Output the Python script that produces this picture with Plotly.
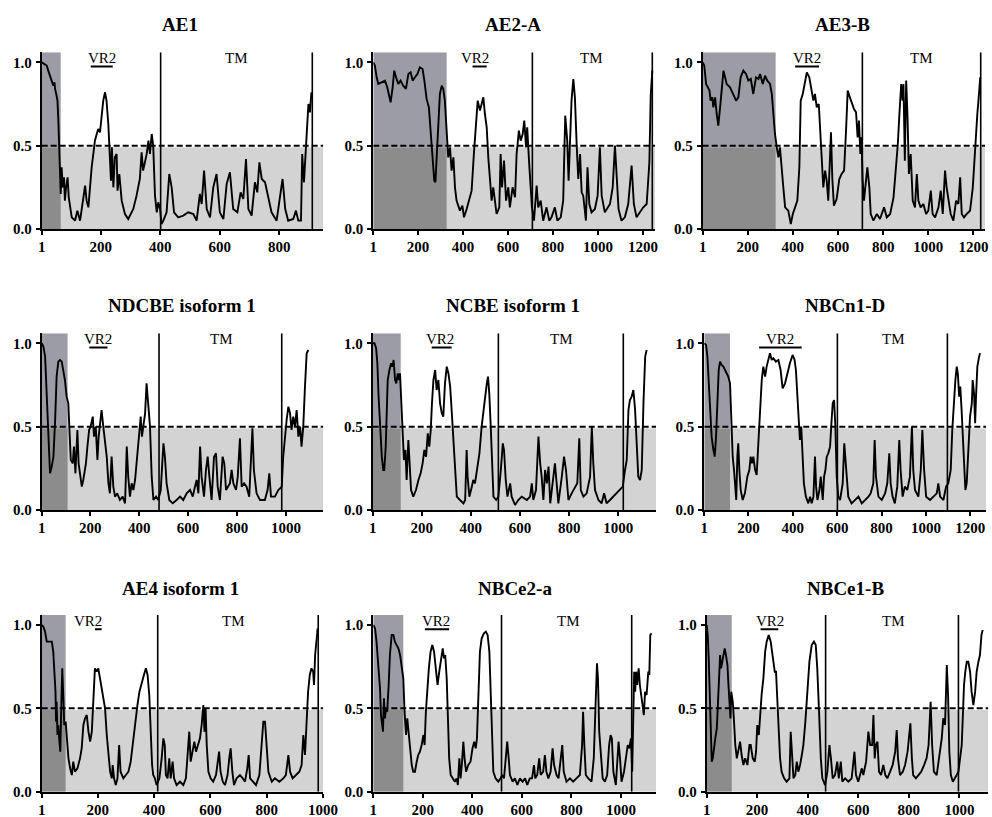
import plotly.graph_objects as go

# ---------------- data (residue position, disorder score) ----------------
AE1_POS = [1,12,18,23,29,35,40,44,46,51,54,57,60,63,65,68,72,76,79,83,88,92,96,102,113,121,130,141,147,152,158,169,180,186,191,197,203,208,214,219,225,228,231,234,237,242,247,253,256,262,270,281,292,309,320,331,337,342,354,360,365,371,376,382,388,393,399,404,410,421,430,438,446,460,477,494,511,522,533,539,547,556,567,578,589,600,612,623,634,645,659,670,679,688,696,707,718,726,733,741,752,763,774,791,802,811,820,830,847,856,864,873,877,883,890,894,898,903,908]
AE1_SCORE = [1.00,0.99,0.98,0.95,0.92,0.89,0.86,0.88,0.84,0.80,0.77,0.65,0.49,0.33,0.21,0.37,0.25,0.31,0.17,0.25,0.31,0.19,0.13,0.07,0.05,0.11,0.05,0.17,0.26,0.17,0.13,0.37,0.53,0.57,0.60,0.58,0.69,0.77,0.82,0.77,0.63,0.51,0.41,0.29,0.49,0.25,0.43,0.45,0.23,0.33,0.17,0.09,0.06,0.12,0.20,0.30,0.46,0.35,0.45,0.53,0.45,0.57,0.50,0.20,0.10,0.16,0.12,0.03,0.05,0.10,0.33,0.25,0.10,0.07,0.08,0.10,0.09,0.05,0.21,0.15,0.35,0.12,0.07,0.25,0.33,0.10,0.06,0.27,0.34,0.12,0.10,0.22,0.18,0.42,0.12,0.08,0.28,0.22,0.40,0.30,0.28,0.18,0.10,0.05,0.20,0.30,0.12,0.05,0.06,0.11,0.05,0.05,0.45,0.28,0.50,0.65,0.75,0.70,0.82]

AE2_POS = [1,8,16,23,38,53,63,72,78,87,94,102,112,122,134,146,157,167,176,186,197,208,220,228,238,248,257,265,272,277,282,290,297,305,312,319,327,334,342,349,357,364,371,386,397,404,416,428,438,448,457,465,475,482,490,497,505,512,519,527,534,542,549,561,567,573,582,591,601,608,620,631,638,648,656,665,672,680,685,693,700,706,715,727,734,745,756,771,783,793,808,819,834,845,854,863,869,875,882,890,897,905,912,920,927,934,946,953,961,971,986,998,1008,1016,1030,1053,1065,1075,1082,1091,1104,1119,1134,1149,1159,1171,1186,1201,1216,1228,1234,1241]
AE2_SCORE = [1.00,0.98,0.91,0.87,0.88,0.89,0.85,0.79,0.76,0.85,0.95,0.91,0.87,0.89,0.86,0.84,0.93,0.94,0.89,0.91,0.93,0.97,0.96,0.89,0.78,0.73,0.57,0.45,0.29,0.28,0.43,0.65,0.81,0.86,0.84,0.77,0.57,0.43,0.49,0.35,0.43,0.25,0.17,0.11,0.14,0.07,0.12,0.19,0.23,0.45,0.65,0.77,0.71,0.75,0.79,0.69,0.61,0.43,0.33,0.17,0.25,0.15,0.09,0.13,0.45,0.25,0.41,0.17,0.25,0.13,0.25,0.19,0.45,0.59,0.53,0.57,0.65,0.49,0.61,0.41,0.25,0.13,0.05,0.26,0.13,0.17,0.05,0.13,0.05,0.07,0.13,0.05,0.07,0.17,0.68,0.53,0.29,0.57,0.77,0.90,0.79,0.50,0.30,0.45,0.22,0.20,0.05,0.37,0.15,0.10,0.12,0.20,0.49,0.20,0.10,0.15,0.25,0.50,0.30,0.12,0.05,0.07,0.15,0.38,0.15,0.07,0.10,0.13,0.15,0.40,0.80,0.95]

AE3_POS = [1,8,16,23,31,36,44,48,56,63,70,78,85,93,100,107,122,137,149,159,169,181,193,203,214,225,237,248,255,267,277,287,299,307,314,321,329,336,343,351,358,366,380,391,400,410,420,429,435,444,454,462,473,484,491,498,506,515,524,529,535,543,550,557,565,569,575,582,594,606,616,627,636,643,650,661,671,680,687,693,699,704,709,715,724,730,739,745,757,772,786,804,816,831,846,857,865,872,880,886,890,896,902,908,914,922,931,941,949,956,966,978,990,1000,1011,1019,1030,1045,1055,1064,1074,1081,1090,1099,1111,1123,1133,1141,1148,1158,1170,1185,1197,1204,1211,1217,1222,1226,1230]
AE3_SCORE = [1.00,0.98,0.87,0.85,0.83,0.77,0.79,0.73,0.79,0.69,0.62,0.73,0.83,0.95,0.91,0.87,0.85,0.81,0.77,0.79,0.91,0.95,0.93,0.89,0.90,0.81,0.91,0.90,0.93,0.87,0.92,0.89,0.87,0.81,0.69,0.57,0.49,0.43,0.49,0.33,0.25,0.13,0.11,0.03,0.09,0.13,0.17,0.37,0.77,0.81,0.89,0.94,0.91,0.83,0.77,0.81,0.73,0.75,0.53,0.39,0.25,0.35,0.29,0.17,0.40,0.58,0.30,0.14,0.18,0.30,0.33,0.35,0.60,0.83,0.80,0.75,0.72,0.70,0.55,0.65,0.45,0.55,0.30,0.17,0.29,0.37,0.25,0.09,0.05,0.09,0.06,0.13,0.07,0.09,0.19,0.37,0.51,0.69,0.87,0.77,0.87,0.41,0.89,0.67,0.33,0.45,0.17,0.13,0.33,0.17,0.13,0.15,0.09,0.11,0.23,0.09,0.07,0.13,0.23,0.09,0.35,0.25,0.17,0.09,0.05,0.17,0.15,0.31,0.09,0.07,0.09,0.11,0.25,0.43,0.53,0.69,0.77,0.87,0.91]

NDCBE_POS = [1,8,15,21,26,31,35,42,49,56,62,69,76,83,90,96,103,110,114,120,128,133,139,147,152,158,165,171,182,188,195,201,210,215,222,229,234,240,246,253,260,267,274,280,287,294,301,310,321,332,342,349,355,362,369,376,383,392,400,406,411,417,424,430,437,444,451,458,469,478,488,499,505,512,523,537,553,567,580,594,608,619,628,635,642,649,655,665,673,680,687,696,706,714,721,730,741,748,755,762,771,778,785,796,803,812,819,829,839,850,863,869,880,894,914,925,932,939,955,969,983,989,996,1003,1010,1017,1023,1030,1037,1044,1051,1058,1064,1071,1078,1085,1092]
NDCBE_SCORE = [1.00,0.98,0.92,0.72,0.54,0.32,0.22,0.26,0.32,0.54,0.80,0.89,0.90,0.89,0.84,0.78,0.68,0.64,0.50,0.30,0.28,0.38,0.22,0.48,0.28,0.20,0.14,0.18,0.28,0.38,0.48,0.50,0.56,0.44,0.50,0.30,0.44,0.52,0.60,0.50,0.40,0.32,0.16,0.10,0.32,0.14,0.08,0.10,0.06,0.08,0.04,0.38,0.20,0.08,0.16,0.12,0.18,0.32,0.44,0.56,0.44,0.50,0.58,0.76,0.64,0.50,0.20,0.06,0.08,0.06,0.12,0.40,0.32,0.16,0.06,0.04,0.06,0.08,0.06,0.10,0.12,0.08,0.14,0.18,0.10,0.38,0.20,0.08,0.24,0.32,0.20,0.06,0.32,0.34,0.14,0.06,0.32,0.28,0.12,0.14,0.16,0.24,0.16,0.12,0.20,0.43,0.14,0.16,0.14,0.08,0.49,0.24,0.10,0.06,0.06,0.12,0.22,0.08,0.08,0.12,0.14,0.32,0.44,0.54,0.62,0.58,0.48,0.56,0.50,0.60,0.44,0.50,0.38,0.50,0.74,0.94,0.96]

NCBE_POS = [1,8,15,20,25,31,38,44,48,54,58,62,69,76,81,86,92,97,103,108,112,118,123,128,134,139,146,150,157,166,177,187,196,204,211,218,225,231,237,242,248,255,261,268,275,282,288,295,302,309,316,322,329,336,343,356,370,377,383,387,394,404,410,417,424,435,444,451,458,465,470,475,481,486,492,503,512,522,530,535,542,549,560,566,580,593,607,628,641,648,654,665,675,682,688,695,702,709,716,723,731,742,749,756,770,779,787,797,810,824,833,841,847,858,871,885,892,898,905,919,932,942,952,966,979,993,1007,1018,1027,1034,1041,1047,1054,1061,1068,1074,1081,1088,1095,1102,1109,1115]
NCBE_SCORE = [1.00,1.00,0.97,0.88,0.68,0.50,0.32,0.24,0.24,0.38,0.60,0.78,0.84,0.88,0.86,0.90,0.78,0.76,0.82,0.78,0.82,0.60,0.44,0.30,0.36,0.18,0.42,0.28,0.12,0.08,0.12,0.18,0.22,0.28,0.36,0.32,0.46,0.38,0.48,0.64,0.78,0.84,0.72,0.78,0.64,0.58,0.56,0.76,0.86,0.82,0.74,0.60,0.44,0.24,0.08,0.06,0.04,0.06,0.36,0.20,0.08,0.14,0.18,0.16,0.24,0.34,0.50,0.60,0.68,0.76,0.80,0.70,0.50,0.24,0.08,0.06,0.08,0.24,0.40,0.36,0.18,0.08,0.16,0.08,0.03,0.06,0.08,0.06,0.08,0.16,0.06,0.12,0.44,0.28,0.20,0.06,0.24,0.16,0.26,0.04,0.14,0.28,0.16,0.04,0.20,0.32,0.24,0.06,0.10,0.14,0.16,0.43,0.12,0.08,0.10,0.20,0.50,0.28,0.12,0.06,0.04,0.10,0.04,0.06,0.08,0.10,0.12,0.14,0.24,0.30,0.60,0.66,0.68,0.72,0.60,0.40,0.20,0.18,0.24,0.64,0.92,0.96]

NBCN1_POS = [1,9,15,21,27,34,42,48,54,60,66,72,79,87,94,102,109,117,123,129,135,141,145,150,154,159,165,174,184,195,204,210,216,222,230,237,245,252,260,267,275,282,290,297,305,312,324,335,345,354,365,375,387,399,408,414,420,426,432,438,444,450,459,470,478,485,493,500,505,511,520,526,535,541,547,553,560,568,575,580,586,592,598,605,613,625,632,640,650,665,681,696,711,726,741,751,763,769,775,786,801,816,826,835,841,850,860,871,880,886,895,905,916,928,937,943,951,966,977,984,992,1001,1019,1034,1049,1056,1064,1079,1091,1101,1112,1119,1127,1133,1139,1144,1150,1155,1161,1166,1172,1178,1184,1191,1199,1207,1211,1217,1222,1226,1232,1240,1244]
NBCN1_SCORE = [1.00,0.99,0.92,0.76,0.56,0.44,0.36,0.32,0.44,0.68,0.84,0.89,0.87,0.86,0.84,0.82,0.80,0.76,0.52,0.32,0.24,0.14,0.06,0.32,0.40,0.24,0.12,0.06,0.10,0.20,0.24,0.32,0.28,0.32,0.24,0.21,0.44,0.64,0.78,0.86,0.80,0.86,0.90,0.94,0.90,0.91,0.89,0.90,0.84,0.73,0.76,0.82,0.88,0.93,0.90,0.84,0.72,0.54,0.42,0.50,0.32,0.16,0.08,0.04,0.08,0.04,0.08,0.32,0.14,0.06,0.12,0.20,0.06,0.20,0.24,0.32,0.34,0.38,0.54,0.64,0.66,0.50,0.20,0.08,0.06,0.16,0.40,0.24,0.08,0.04,0.06,0.08,0.04,0.06,0.08,0.10,0.16,0.42,0.20,0.08,0.06,0.10,0.16,0.34,0.16,0.08,0.04,0.14,0.42,0.24,0.08,0.14,0.12,0.20,0.50,0.24,0.12,0.08,0.24,0.48,0.24,0.08,0.06,0.08,0.10,0.16,0.08,0.06,0.14,0.16,0.24,0.48,0.68,0.78,0.86,0.82,0.68,0.74,0.60,0.44,0.24,0.12,0.16,0.32,0.56,0.64,0.78,0.70,0.52,0.68,0.86,0.92,0.94]

AE4_POS = [1,7,13,19,28,37,42,46,50,52,54,57,60,64,67,71,74,78,81,86,90,96,102,108,113,119,128,137,143,149,155,161,167,173,179,184,190,196,202,208,214,220,226,232,238,244,250,253,258,264,270,276,281,291,300,309,317,324,332,341,348,356,364,371,377,383,388,393,397,403,409,419,427,433,438,442,448,454,459,466,471,480,492,504,513,522,525,530,537,543,549,557,563,569,575,579,583,587,593,601,610,620,626,631,636,644,652,661,667,672,678,684,693,705,715,723,731,736,741,750,762,774,782,788,794,800,806,818,829,845,859,868,877,883,892,904,916,924,930,936,941,947,953,959,965,968,972,977,981]
AE4_SCORE = [1.00,0.99,0.96,0.90,0.90,0.90,0.84,0.72,0.60,0.42,0.54,0.34,0.40,0.30,0.24,0.54,0.74,0.56,0.40,0.42,0.32,0.20,0.14,0.10,0.18,0.12,0.14,0.20,0.26,0.40,0.44,0.46,0.36,0.30,0.36,0.54,0.74,0.72,0.74,0.68,0.62,0.54,0.50,0.34,0.20,0.12,0.08,0.16,0.08,0.04,0.08,0.28,0.12,0.08,0.10,0.12,0.18,0.28,0.42,0.52,0.60,0.66,0.70,0.74,0.70,0.58,0.36,0.16,0.10,0.08,0.04,0.08,0.20,0.32,0.28,0.10,0.08,0.20,0.08,0.18,0.08,0.04,0.06,0.04,0.08,0.30,0.36,0.18,0.26,0.30,0.24,0.28,0.32,0.40,0.52,0.36,0.50,0.28,0.12,0.08,0.06,0.10,0.20,0.24,0.12,0.06,0.04,0.10,0.20,0.26,0.12,0.04,0.08,0.10,0.08,0.06,0.14,0.22,0.08,0.06,0.04,0.10,0.28,0.42,0.42,0.28,0.12,0.06,0.08,0.06,0.08,0.10,0.22,0.12,0.08,0.10,0.12,0.16,0.34,0.22,0.38,0.60,0.70,0.74,0.72,0.64,0.82,0.94,0.98]

NBCE2_POS = [1,8,14,21,28,32,36,40,44,48,52,57,63,68,75,82,88,95,102,109,115,122,127,133,138,143,149,156,162,169,176,182,189,196,203,208,213,219,225,232,239,246,254,260,267,275,281,286,291,297,302,307,313,321,330,337,342,348,353,358,364,369,375,384,393,401,408,414,419,424,431,438,447,455,462,469,474,479,485,494,505,514,522,528,536,541,547,552,563,572,582,592,603,613,622,632,641,649,654,662,670,676,686,693,699,707,716,724,730,740,748,756,763,769,780,794,807,820,834,843,847,852,858,868,881,890,896,900,903,907,912,918,926,935,944,952,958,963,969,979,985,990,996,1002,1012,1020,1027,1033,1040,1045,1049,1053,1057,1061,1065,1071,1076,1081,1087,1092,1097,1103,1110,1114,1118,1123]
NBCE2_SCORE = [1.00,0.98,0.90,0.76,0.62,0.46,0.42,0.36,0.56,0.44,0.50,0.48,0.64,0.82,0.94,0.94,0.90,0.88,0.86,0.82,0.76,0.68,0.48,0.34,0.44,0.36,0.24,0.16,0.12,0.12,0.18,0.22,0.24,0.28,0.34,0.28,0.48,0.64,0.74,0.84,0.88,0.84,0.72,0.64,0.72,0.80,0.86,0.80,0.82,0.68,0.44,0.20,0.10,0.08,0.06,0.08,0.04,0.20,0.08,0.16,0.30,0.20,0.12,0.16,0.18,0.26,0.30,0.26,0.32,0.54,0.84,0.92,0.95,0.96,0.94,0.84,0.58,0.28,0.12,0.08,0.06,0.08,0.10,0.08,0.20,0.30,0.20,0.10,0.06,0.08,0.04,0.08,0.06,0.08,0.04,0.08,0.08,0.16,0.08,0.10,0.20,0.10,0.12,0.22,0.12,0.08,0.12,0.26,0.16,0.10,0.08,0.18,0.28,0.12,0.06,0.08,0.06,0.08,0.10,0.28,0.48,0.28,0.10,0.08,0.06,0.20,0.48,0.70,0.77,0.68,0.36,0.24,0.08,0.06,0.10,0.28,0.34,0.32,0.12,0.04,0.16,0.30,0.20,0.06,0.12,0.20,0.28,0.26,0.32,0.12,0.48,0.72,0.60,0.72,0.64,0.74,0.64,0.58,0.54,0.46,0.60,0.58,0.72,0.70,0.94,0.95]

NBCE1_POS = [1,5,9,13,17,21,25,30,35,41,46,50,54,58,62,67,72,77,83,87,91,95,98,104,109,114,120,126,133,139,146,153,162,170,175,183,191,196,201,207,212,218,225,232,238,246,254,262,270,275,280,286,291,297,307,317,328,333,338,344,351,357,363,370,377,383,391,399,407,416,425,432,438,445,452,458,469,478,486,492,499,508,517,523,531,537,548,561,574,585,591,600,614,620,631,640,647,655,660,665,670,676,682,690,699,707,715,726,736,746,752,757,765,776,785,795,801,806,812,817,828,839,849,860,870,878,886,892,899,910,920,930,936,943,950,955,960,966,974,983,989,996,1002,1009,1013,1018,1023,1029,1035,1042,1048,1055,1062,1068,1075,1081,1087,1092]
NBCE1_SCORE = [1.00,0.94,0.80,0.58,0.28,0.18,0.20,0.28,0.32,0.38,0.58,0.74,0.82,0.74,0.78,0.82,0.86,0.82,0.76,0.64,0.56,0.44,0.60,0.54,0.42,0.28,0.20,0.24,0.30,0.22,0.16,0.20,0.16,0.28,0.28,0.20,0.18,0.24,0.40,0.34,0.48,0.58,0.68,0.84,0.90,0.94,0.90,0.80,0.72,0.72,0.58,0.36,0.20,0.12,0.08,0.06,0.08,0.36,0.20,0.08,0.10,0.18,0.12,0.16,0.22,0.28,0.42,0.62,0.78,0.88,0.90,0.88,0.74,0.48,0.20,0.08,0.04,0.12,0.28,0.20,0.08,0.10,0.18,0.08,0.18,0.06,0.08,0.06,0.08,0.24,0.10,0.06,0.14,0.10,0.18,0.36,0.28,0.28,0.46,0.20,0.28,0.30,0.12,0.10,0.16,0.10,0.08,0.12,0.16,0.24,0.37,0.20,0.10,0.12,0.16,0.24,0.36,0.41,0.20,0.10,0.08,0.10,0.12,0.16,0.20,0.28,0.54,0.28,0.12,0.10,0.20,0.32,0.44,0.40,0.76,0.58,0.24,0.10,0.06,0.08,0.10,0.12,0.20,0.28,0.44,0.64,0.72,0.78,0.78,0.72,0.60,0.52,0.60,0.72,0.78,0.82,0.94,0.97]

TITLES = ["AE1", "AE2-A", "AE3-B", "NDCBE isoform 1", "NCBE isoform 1", "NBCn1-D",
          "AE4 isoform 1", "NBCe2-a", "NBCe1-B"]
SERIES = [(AE1_POS, AE1_SCORE), (AE2_POS, AE2_SCORE), (AE3_POS, AE3_SCORE),
          (NDCBE_POS, NDCBE_SCORE), (NCBE_POS, NCBE_SCORE), (NBCN1_POS, NBCN1_SCORE),
          (AE4_POS, AE4_SCORE), (NBCE2_POS, NBCE2_SCORE), (NBCE1_POS, NBCE1_SCORE)]
X_MAX = [948, 1253, 1251, 1153, 1153, 1271, 1001, 1141, 1114]
X_TICKS = [[1, 200, 400, 600, 800],
           [1, 200, 400, 600, 800, 1000, 1200],
           [1, 200, 400, 600, 800, 1000, 1200],
           [1, 200, 400, 600, 800, 1000],
           [1, 200, 400, 600, 800, 1000],
           [1, 200, 400, 600, 800, 1000, 1200],
           [1, 200, 400, 600, 800, 1000],
           [1, 200, 400, 600, 800, 1000],
           [1, 200, 400, 600, 800, 1000]]
NTERM_END = [65, 327, 324, 107, 115, 117, 86, 122, 100]      # dark N-terminal block
TM_LINES = [[401, 911], [708, 1241], [708, 1232], [481, 983], [512, 1020],
            [601, 1097], [413, 983], [518, 1043], [471, 996]]
VR2_BAR = [(166, 240), (442, 505), (410, 516), (196, 270), (241, 322),
           (248, 440), (190, 214), (209, 307), (214, 284)]
VR2_LABEL_X = [203, 453, 462, 233, 275, 342, 167, 254, 251]
TM_LABEL_X = [656, 971, 971, 737, 770, 853, 681, 787, 739]
THRESHOLD = 0.5

# ---------------- layout geometry (screen pixels) ----------------
W, H = 992, 817
COL_PX = [(41.7, 323.3), (373.3, 655.0), (702.7, 985.0),
          (41.7, 323.3), (372.7, 656.0), (704.3, 986.0),
          (41.7, 323.3), (373.3, 656.0), (706.7, 988.3)]
ROW_PX = [(52.3, 229.0), (333.3, 510.0), (615.0, 791.7)]
TITLE_PX = [(180, 25), (513, 25), (842, 25), (182, 305), (513, 305), (845, 305),
            (180, 588), (515, 588), (845, 588)]
YTOP = 1.06
SERIF = "Liberation Serif"


def fx(p):
    return p / W


def fy(p):
    return 1 - p / H


fig = go.Figure()
shapes, annotations = [], []
layout_axes = {}

for i in range(9):
    n = i + 1
    xs, ys = SERIES[i]
    xa, ya = f"x{n}", f"y{n}"
    x0p, x1p = COL_PX[i]
    ytp, ybp = ROW_PX[i // 3]
    xmax = X_MAX[i]

    fig.add_trace(go.Scatter(x=xs, y=ys, mode="lines", xaxis=xa, yaxis=ya,
                             line=dict(color="black", width=1.9), showlegend=False,
                             hoverinfo="skip"))

    axis_common = dict(showline=True, linecolor="black", linewidth=2, ticks="outside",
                       ticklen=4, tickwidth=2, tickcolor="black", showgrid=False,
                       zeroline=False, fixedrange=True, automargin=False,
                       tickfont=dict(family=SERIF, size=15, color="black", weight="bold"))
    layout_axes[f"xaxis{n}"] = dict(axis_common, domain=[fx(x0p), fx(x1p)],
                                    range=[1, xmax], anchor=ya,
                                    tickmode="array", tickvals=X_TICKS[i],
                                    ticktext=[str(t) for t in X_TICKS[i]], ticklabelstandoff=-1)
    layout_axes[f"yaxis{n}"] = dict(axis_common, domain=[fy(ybp), fy(ytp)],
                                    range=[0, YTOP], anchor=xa,
                                    tickmode="array", tickvals=[0, 0.5, 1.0],
                                    ticktext=["0.0", "0.5", "1.0"], ticklabelstandoff=1)

    ref = dict(xref=xa, yref=ya)
    # light grey band below threshold
    shapes.append(dict(type="rect", x0=1, x1=xmax, y0=0, y1=0.49, fillcolor="#d3d3d3",
                       line=dict(width=0), layer="below", **ref))
    # dark N-terminal block
    shapes.append(dict(type="rect", x0=1, x1=NTERM_END[i], y0=0, y1=0.49, fillcolor="#8c8c8c",
                       line=dict(width=0), layer="below", **ref))
    shapes.append(dict(type="rect", x0=1, x1=NTERM_END[i], y0=0.49, y1=YTOP, fillcolor="#9c9ca7",
                       line=dict(width=0), layer="below", **ref))
    # threshold dashed line
    shapes.append(dict(type="line", x0=1, x1=xmax, y0=THRESHOLD, y1=THRESHOLD,
                       line=dict(color="black", width=2, dash="6px,3px"), **ref))
    # TM boundaries
    for xv in TM_LINES[i]:
        shapes.append(dict(type="line", x0=xv, x1=xv, y0=0, y1=YTOP,
                           line=dict(color="black", width=1.6), **ref))
    # VR2 bar
    a, b = VR2_BAR[i]
    shapes.append(dict(type="line", x0=a, x1=b, y0=0.975, y1=0.975,
                       line=dict(color="black", width=2), **ref))

    annotations.append(dict(x=VR2_LABEL_X[i], y=1.025, text="VR2", showarrow=False,
                            font=dict(family=SERIF, size=15, color="black"),
                            xanchor="center", yanchor="middle", **ref))
    annotations.append(dict(x=TM_LABEL_X[i], y=1.025, text="TM", showarrow=False,
                            font=dict(family=SERIF, size=15, color="black"),
                            xanchor="center", yanchor="middle", **ref))
    tx, ty = TITLE_PX[i]
    annotations.append(dict(x=fx(tx), y=fy(ty), xref="paper", yref="paper",
                            text=f"<b>{TITLES[i]}</b>", showarrow=False,
                            font=dict(family=SERIF, size=19, color="black"),
                            xanchor="center", yanchor="middle"))

fig.update_layout(template="none", width=W, height=H, margin=dict(l=0, r=0, t=0, b=0),
                  paper_bgcolor="white", plot_bgcolor="white",
                  shapes=shapes, annotations=annotations, **layout_axes)

# remove the default page margin so the 992x817 figure fills the window exactly
fig.write_html("out.html",
               config={"displayModeBar": False, "staticPlot": True},
               post_script="document.body.style.margin='0px';"
                           "document.documentElement.style.overflow='hidden';")
